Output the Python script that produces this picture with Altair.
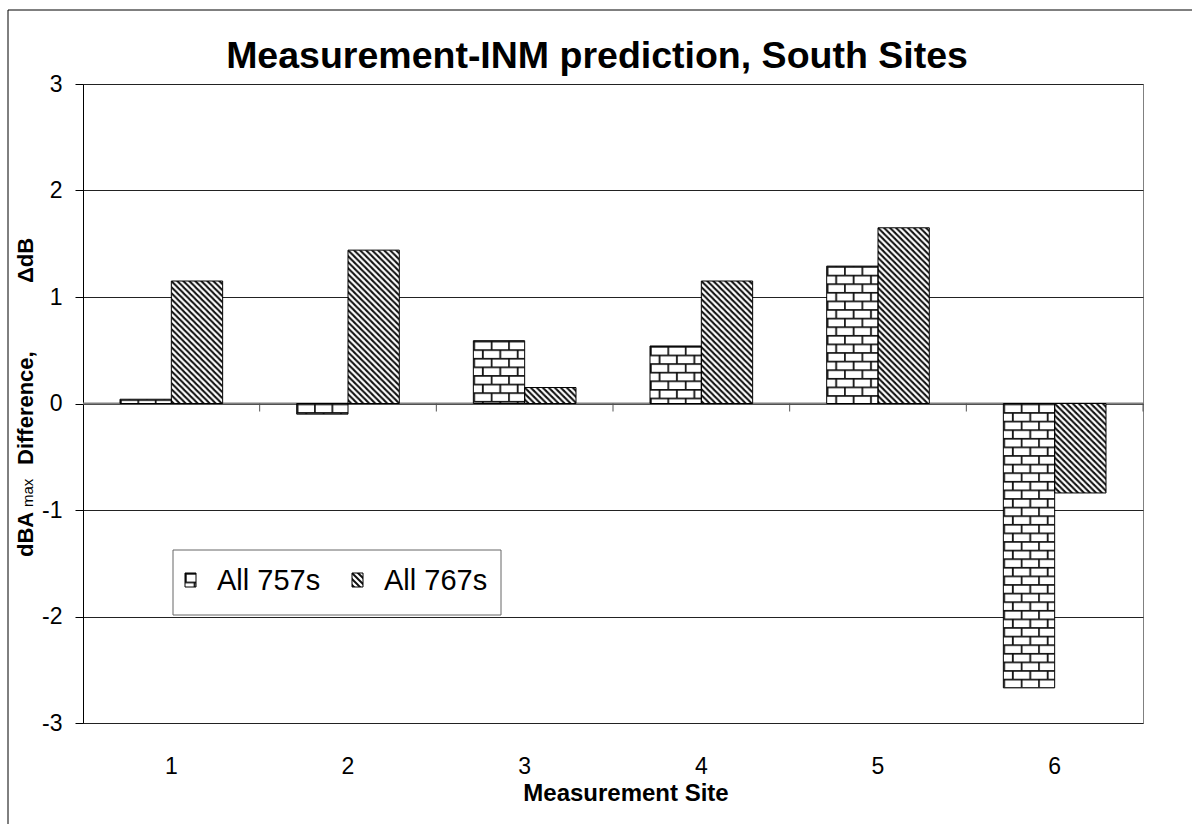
import altair as alt
import pandas as pd
from urllib.parse import quote

# ---- chart values ----
sites = ["1", "2", "3", "4", "5", "6"]
series = ["All 757s", "All 767s"]
diff_757 = [0.04, -0.10, 0.59, 0.54, 1.29, -2.67]
diff_767 = [1.15, 1.44, 0.15, 1.15, 1.65, -0.84]
y_ticks = [-3, -2, -1, 0, 1, 2, 3]

FONT = "Liberation Sans"

# ---- fill patterns (SVG tiles in user space, so they do not stretch) ----
brick_svg = (
    "<svg xmlns='http://www.w3.org/2000/svg' width='100%' height='100%'>"
    "<defs><pattern id='b' width='17.4' height='17.2' patternUnits='userSpaceOnUse'>"
    "<rect width='17.4' height='17.2' fill='white'/>"
    "<path d='M0,0.8 H17.4 M0,9.4 H17.4 M0.8,0 V9.4 M9.5,9.4 V17.2' "
    "stroke='#111' stroke-width='1.8' fill='none'/>"
    "</pattern></defs><rect width='100%' height='100%' fill='url(#b)'/></svg>"
)
hatch_svg = (
    "<svg xmlns='http://www.w3.org/2000/svg' width='100%' height='100%'>"
    "<defs><pattern id='h' width='6' height='6' patternUnits='userSpaceOnUse'>"
    "<rect width='6' height='6' fill='white'/>"
    "<path d='M-3,3 L3,9 M0,0 L6,6 M3,-3 L9,3' stroke='#111' stroke-width='2.0'/>"
    "</pattern></defs><rect width='100%' height='100%' fill='url(#h)'/></svg>"
)


def data_uri(svg):
    return "data:image/svg+xml;charset=utf-8," + quote(svg, safe="")


patterns = {series[0]: data_uri(brick_svg), series[1]: data_uri(hatch_svg)}

rows = []
for s, a, b in zip(sites, diff_757, diff_767):
    rows.append({"site": s, "series": series[0], "value": a, "pat": patterns[series[0]]})
    rows.append({"site": s, "series": series[1], "value": b, "pat": patterns[series[1]]})
df = pd.DataFrame(rows)

W, H = 1060, 639
one = alt.Data(values=[{"k": 0}])

band_scale = alt.Scale(paddingInner=0.419, paddingOuter=0.2095)
x_off = alt.XOffset("series:N", sort=series, scale=alt.Scale(paddingInner=0, paddingOuter=0))
y_axis = alt.Axis(
    values=y_ticks, labelExpr="'' + datum.value", grid=True, gridColor="#222", gridWidth=1,
    domainColor="black", domainWidth=1, tickColor="black", tickSize=8,
    labelFont=FONT, labelFontSize=23, labelColor="black", labelPadding=13,
    title=None,
)
y_enc = alt.Y("value:Q", scale=alt.Scale(domain=[-3, 3], nice=False, zero=False), axis=y_axis)

# outer chart frame (only top/left edges fall inside the page)
frame = alt.Chart(one).mark_rect(fillOpacity=0, stroke="black", strokeWidth=1).encode(
    x=alt.value(-75), x2=alt.value(1300), y=alt.value(-74), y2=alt.value(900)
)

zero_line = alt.Chart(one).mark_rule(color="#808080", strokeWidth=2).encode(y=alt.datum(0))

bars_fill = alt.Chart(df).mark_image(aspect=False).encode(
    x=alt.X("site:N", sort=sites, scale=band_scale, axis=None),
    xOffset=x_off,
    y=y_enc,
    y2=alt.datum(0),
    url="pat:N",
)

bars_edge = alt.Chart(df).mark_bar(fillOpacity=0, stroke="black", strokeWidth=1).encode(
    x=alt.X(
        "site:N", sort=sites, scale=band_scale,
        axis=alt.Axis(
            title=None, ticks=False, tickSize=0, domain=False, grid=False, labelAngle=0,
            labelFont=FONT, labelFontSize=23, labelColor="black",
            labelBaseline="alphabetic", labelPadding=50,
        ),
    ),
    xOffset=x_off,
    y=alt.Y("value:Q", axis=y_axis),
    y2=alt.datum(0),
)

# category separator ticks hanging from the zero line
bounds = pd.DataFrame({"b": list(range(1, len(sites) + 1))})
sep_ticks = alt.Chart(bounds).mark_rule(color="#555", strokeWidth=1, y2Offset=8).encode(
    x=alt.X("b:Q", scale=alt.Scale(domain=[0, len(sites)], nice=False, zero=False), axis=None),
    y=alt.datum(0),
    y2=alt.datum(0),
)


def label(text, x, y, size, bold=False, angle=0, align="center"):
    return alt.Chart(one).mark_text(
        text=text, font=FONT, fontSize=size, fontWeight="bold" if bold else "normal",
        color="black", angle=angle, align=align, baseline="alphabetic",
    ).encode(x=alt.value(x), y=alt.value(y))


title = label("Measurement-INM prediction, South Sites", 514, -16, 37.5, bold=True)
x_title = label("Measurement Site", 543, 717, 24, bold=True)
y_title = [
    label("dBA", -50, 473, 22, bold=True, angle=270, align="left"),
    label("max", -50, 423, 15, angle=270, align="left"),
    label("Difference,", -50, 381, 22, bold=True, angle=270, align="left"),
    label("\u0394dB", -50, 199, 22, bold=True, angle=270, align="left"),
]

# legend box
legend_box = alt.Chart(one).mark_rect(fill="white", stroke="#666", strokeWidth=1).encode(
    x=alt.value(90), x2=alt.value(418), y=alt.value(466), y2=alt.value(531)
)
legend_items = []
for i, name in enumerate(series):
    dx = i * 167
    legend_items.append(
        alt.Chart(one).mark_image(aspect=False, url=patterns[name]).encode(
            x=alt.value(102 + dx), x2=alt.value(113 + dx), y=alt.value(489), y2=alt.value(503)
        )
    )
    legend_items.append(
        alt.Chart(one).mark_rect(fillOpacity=0, stroke="black", strokeWidth=1).encode(
            x=alt.value(102 + dx), x2=alt.value(113 + dx), y=alt.value(489), y2=alt.value(503)
        )
    )
    legend_items.append(label(name, 134 + dx, 506, 29, align="left"))

chart = alt.layer(
    frame, zero_line, bars_fill, bars_edge, sep_ticks,
    title, x_title, *y_title, legend_box, *legend_items,
).resolve_scale(x="independent").properties(
    width=W, height=H,
    padding={"left": 83, "top": 84, "right": 49, "bottom": 101},
    autosize=alt.AutoSizeParams(type="none"),
    background="white",
).configure_view(stroke="#808080", strokeWidth=1)

chart.save("out.html", embed_options={"renderer": "svg", "actions": False})
